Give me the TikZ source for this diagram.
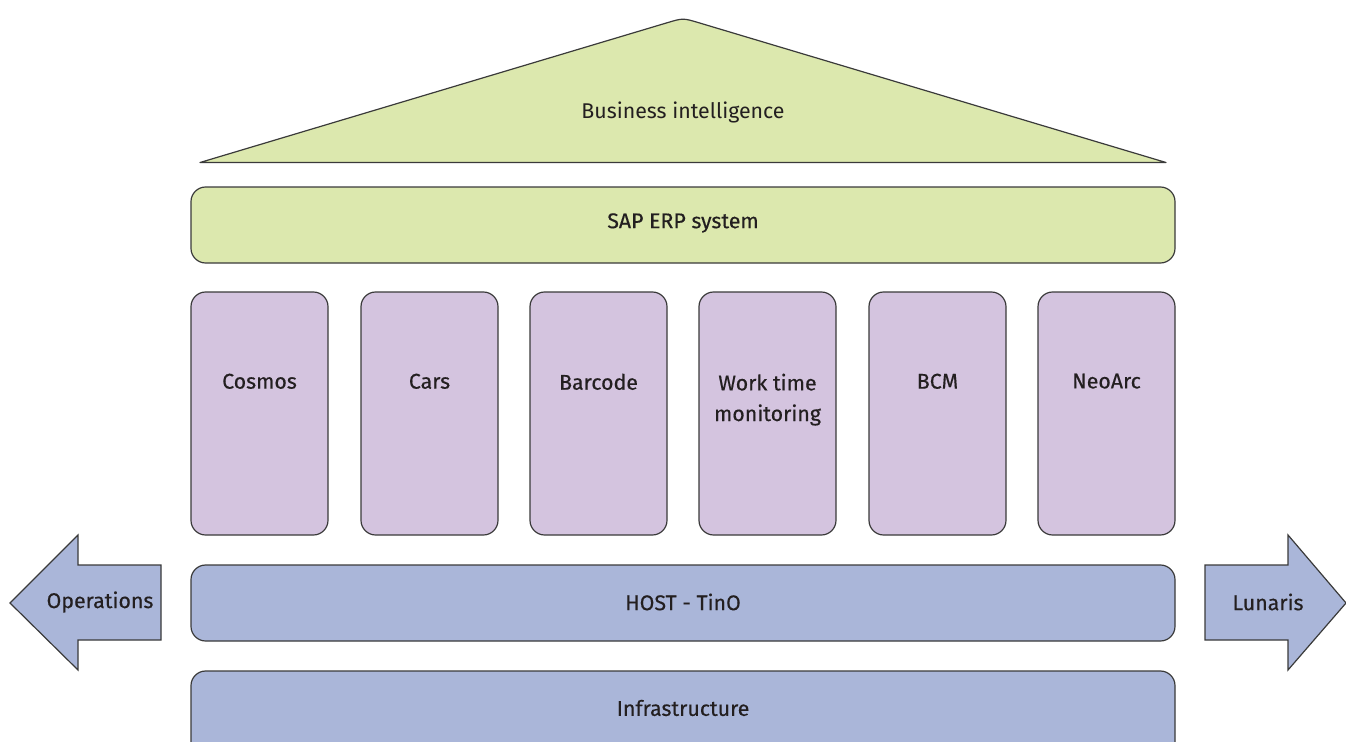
\documentclass[tikz,border=0pt]{standalone}
\usepackage{fontspec}
\setmainfont{Fira Sans}[FakeBold=0.4]
\newfontfamily\lightfont{Fira Sans}
\begin{document}
\begin{tikzpicture}[x=0.75pt,y=-0.75pt,
  every node/.style={font=\fontsize{16}{23}\selectfont, text=txt},
  box/.style={draw=edge, line width=0.9pt, rounded corners=11pt},
  outl/.style={draw=edge, line width=0.9pt, line join=miter}]
\definecolor{grn}{HTML}{DCE8AE}
\definecolor{pur}{HTML}{D4C4DF}
\definecolor{blu}{HTML}{AAB6D9}
\definecolor{edge}{HTML}{3A3A3A}
\definecolor{txt}{HTML}{231F20}
\useasboundingbox (0,0) rectangle (1346,742);
\clip (0,0) rectangle (1346,742);
% roof
\draw[outl, fill=grn, line join=round] (200,162.5) -- (667,22.8) .. controls (683,18) .. (699,22.8) -- (1166,162.5) -- cycle;
\node[font=\lightfont\fontsize{16}{23}\selectfont] (bi) at (683,112) {Business intelligence};
% SAP
\draw[box, fill=grn] (191,187) rectangle (1175,263);
\node (sap) at (683,223) {SAP ERP system};
% pillars
\foreach \x/\name/\t in {191/cos/Cosmos, 361/car/Cars, 530/bar/Barcode, 699/wtm/{Work time\\monitoring}, 869/bcm/BCM, 1038/neo/NeoArc}{
  \draw[box, fill=pur] (\x,292) rectangle ++(137,243);
  \node[anchor=north, align=center] (\name) at (\x+68.5,369) {\t};
}
% host
\draw[box, fill=blu] (191,565) rectangle (1175,641);
\node (host) at (683,602) {HOST - TinO};
% infrastructure
\draw[box, fill=blu] (191,671) rectangle (1175,760);
\node (infra) at (683,708) {Infrastructure};
% arrows
\draw[outl, fill=blu] (161,565) -- (78,565) -- (78,535) -- (10,603) -- (78,670) -- (78,640) -- (161,640) -- cycle;
\node (ops) at (100,602) {Operations};
\draw[outl, fill=blu] (1205,565) -- (1288,565) -- (1288,535) -- (1346,603) -- (1288,670) -- (1288,640) -- (1205,640) -- cycle;
\node (lun) at (1268,602) {Lunaris};
\end{tikzpicture}
\end{document}
